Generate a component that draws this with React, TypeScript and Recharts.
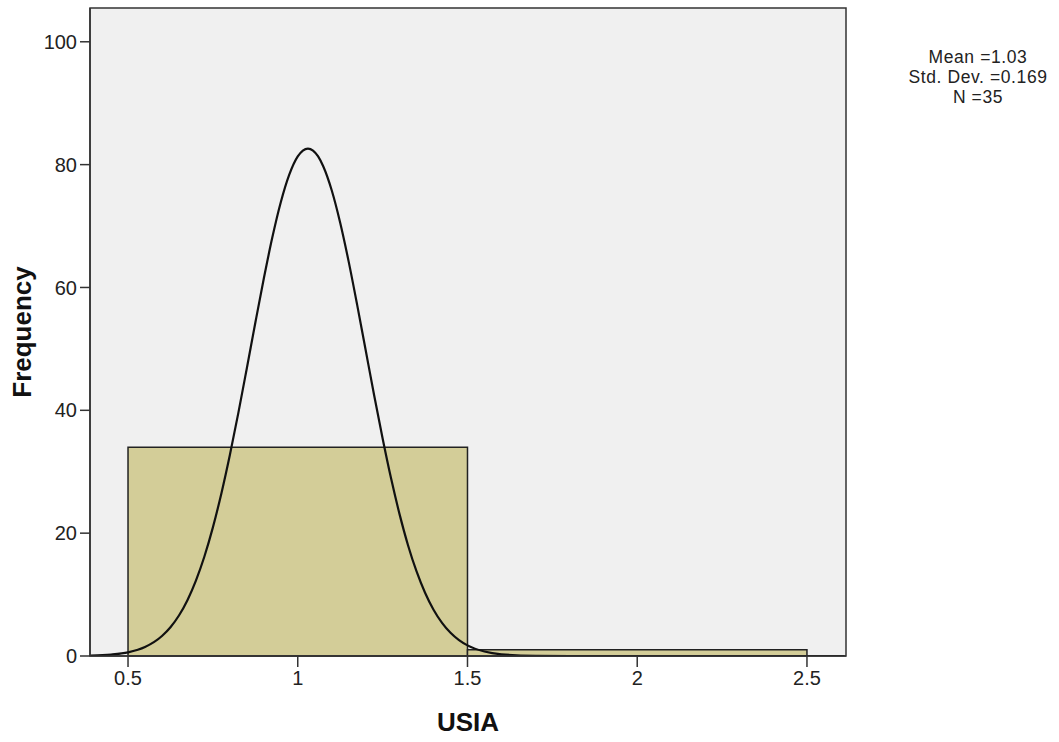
import React from "react"
import {
  ComposedChart,
  Line,
  XAxis,
  YAxis,
  CartesianGrid,
  ReferenceArea,
} from "recharts"

// histogram bins (USIA)
const binStart = [0.5, 1.5]
const binEnd = [1.5, 2.5]
const binCount = [34, 1]

// normal curve
const curveX = [
  0.39, 0.45, 0.5, 0.55, 0.6, 0.625, 0.65, 0.675, 0.7, 0.725, 0.75, 0.775, 0.8, 0.825,
  0.85, 0.875, 0.9, 0.925, 0.95, 0.975, 1.0, 1.015, 1.03, 1.045, 1.06, 1.075, 1.1, 1.125, 1.15,
  1.175, 1.2, 1.225, 1.25, 1.275, 1.3, 1.325, 1.35, 1.375, 1.4, 1.425, 1.45, 1.475,
  1.5, 1.55, 1.6, 1.7, 1.8, 2.0, 2.3, 2.61,
]
const curveY = [
  0.06, 0.23, 0.6, 1.46, 3.25, 4.68, 6.59, 9.09, 12.28, 16.2, 20.94, 26.47, 32.73, 39.58,
  46.86, 54.26, 61.45, 68.12, 73.87, 78.36, 81.33, 82.29, 82.62, 82.29, 81.33, 79.74, 75.83, 70.54, 64.21,
  57.17, 49.81, 42.46, 35.41, 28.88, 23.06, 18.0, 13.76, 10.29, 7.52, 5.38, 3.77, 2.58,
  1.73, 0.73, 0.28, 0.03, 0.0, 0, 0, 0,
]

const xTicks = [0.5, 1, 1.5, 2, 2.5]
const yTicks = [0, 20, 40, 60, 80, 100]
const X_DOMAIN = [0.388, 2.615]
const Y_DOMAIN = [0, 105.5]

const statLines = ["Mean =1.03", "Std. Dev. =0.169", "N =35"]

const FONT = "'Liberation Sans', Arial, sans-serif"
const AXIS = "#333"

export default function App() {
  const curve = curveX.map((x, i) => ({ x, y: curveY[i] }))
  const tickStyle = { fontSize: 20, fill: "#222", fontFamily: FONT }

  return (
    <div style={{ position: "absolute", left: 0, top: 0, width: 1059, height: 742, background: "#fff" }}>
      <ComposedChart
        width={1059}
        height={742}
        margin={{ top: 8, right: 213, bottom: 46, left: 0 }}
        style={{ fontFamily: FONT }}
      >
        <CartesianGrid fill="#f0f0f0" horizontal={false} vertical={false} />
        <XAxis
          dataKey="x"
          type="number"
          domain={X_DOMAIN}
          ticks={xTicks}
          allowDataOverflow
          height={40}
          tickSize={11}
          tickMargin={4}
          tick={tickStyle}
          stroke={AXIS}
          axisLine={{ stroke: AXIS, strokeWidth: 1.5 }}
          tickLine={{ stroke: AXIS, strokeWidth: 1.5 }}
          label={{
            value: "USIA",
            position: "center",
            dy: 46,
            style: { fontSize: 26, fontWeight: "bold", fill: "#111", fontFamily: FONT },
          }}
        />
        <YAxis
          type="number"
          domain={Y_DOMAIN}
          ticks={yTicks}
          allowDataOverflow
          width={90}
          tickSize={10}
          tickMargin={3}
          tick={tickStyle}
          axisLine={{ stroke: AXIS, strokeWidth: 1.5 }}
          tickLine={{ stroke: AXIS, strokeWidth: 1.5 }}
          label={{
            value: "Frequency",
            position: "center",
            angle: -90,
            dx: -23,
            style: { fontSize: 26, fontWeight: "bold", fill: "#111", fontFamily: FONT, textAnchor: "middle" },
          }}
        />
        {binStart.map((s, i) => (
          <ReferenceArea
            key={i}
            x1={s}
            x2={binEnd[i]}
            y1={0}
            y2={binCount[i]}
            fill="#d3cd98"
            fillOpacity={1}
            stroke="#222"
            strokeWidth={1.5}
          />
        ))}
        <Line
          data={curve}
          dataKey="y"
          type="monotone"
          stroke="#111"
          strokeWidth={2.2}
          dot={false}
          activeDot={false}
          isAnimationActive={false}
        />
        {/* plot frame */}
        <ReferenceArea
          x1={X_DOMAIN[0]}
          x2={X_DOMAIN[1]}
          y1={Y_DOMAIN[0]}
          y2={Y_DOMAIN[1]}
          fill="none"
          fillOpacity={0}
          stroke={AXIS}
          strokeWidth={1.5}
          ifOverflow="visible"
        />
      </ComposedChart>
      <div
        style={{
          position: "absolute",
          left: 893,
          top: 47,
          width: 170,
          textAlign: "center",
          fontFamily: FONT,
          fontSize: 17.5,
          letterSpacing: 0.6,
          lineHeight: "20px",
          color: "#222",
        }}
      >
        {statLines.map((t) => (
          <div key={t}>{t}</div>
        ))}
      </div>
    </div>
  )
}
